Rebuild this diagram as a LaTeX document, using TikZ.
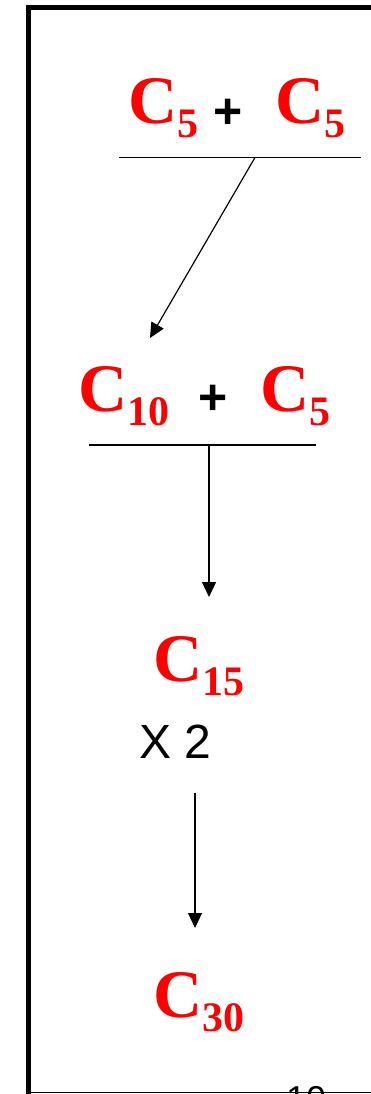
\documentclass[tikz,border=0pt]{standalone}
\usepackage{fontspec}
\setmainfont{Liberation Serif}
\newfontfamily\arialfont{Liberation Sans}
\usetikzlibrary{arrows.meta}

\newcommand{\Ckette}[1]{C\raisebox{-14pt}{\fontsize{42}{42}\selectfont\bfseries #1}}

\begin{document}
\begin{tikzpicture}[x=1pt, y=-1pt,
				>={Triangle[length=15pt,width=14pt]},   %Pfeilspitzen
				kette/.style={anchor=base west, inner sep=0pt, text=red, font=\fontsize{68}{68}\selectfont\bfseries},
				zeichen/.style={anchor=base west, inner sep=0pt, font=\arialfont\fontsize{48}{48}\selectfont},
				plus/.style={zeichen, font=\arialfont\fontsize{50}{50}\selectfont\bfseries},
				pfeil/.style={->, line width=1.2pt},
				balken/.style={line width=1.6pt}]
				% Rahmen zeichnen
				\useasboundingbox (0,0) rectangle (371,1094);
				\clip (0,0) rectangle (371,1094);
				\draw[line width=5.5pt, line join=miter] (28.5,1100) -- (28.5,7.5) -- (380,7.5);
				\draw[line width=1.5pt] (31,1092.5) -- (380,1092.5);
				\node[zeichen, font=\arialfont\fontsize{36}{36}\selectfont] (seite) at (286,1111) {10};
				% erste Zeile
				\node[kette] (cfuenfa) at (128,124) {\Ckette{5}};
				\node[plus] (plusa) at (213,128.5) {+};
				\node[kette] (cfuenfb) at (275,124) {\Ckette{5}};
				\coordinate (balkenaw) at (119,157.5);
				\coordinate (balkenao) at (361,157.5);
				\draw[balken] (balkenaw) -- (balkenao);
				\coordinate (gabela) at (255,157.5);
				\coordinate (spitzea) at (150,338);
				\draw[pfeil] (gabela) -- (spitzea);
				% zweite Zeile
				\node[kette] (czehn) at (78,411) {\Ckette{10}};
				\node[plus] (plusb) at (198,414.5) {+};
				\node[kette] (cfuenfc) at (260,411) {\Ckette{5}};
				\coordinate (balkenbw) at (89,445);
				\coordinate (balkenbo) at (316,445);
				\draw[balken] (balkenbw) -- (balkenbo);
				\coordinate (gabelb) at (209,445);
				\coordinate (spitzeb) at (209,597);
				\draw[pfeil] (gabelb) -- (spitzeb);
				% Verdopplung
				\node[kette] (cfuenfzehn) at (153,681) {\Ckette{15}};
				\node[zeichen] (mal) at (139,758) {X 2};
				\coordinate (startc) at (195,793);
				\coordinate (spitzec) at (195,928);
				\draw[pfeil] (startc) -- (spitzec);
				\node[kette] (cdreissig) at (153,1017) {\Ckette{30}};
			\end{tikzpicture}
\end{document}
